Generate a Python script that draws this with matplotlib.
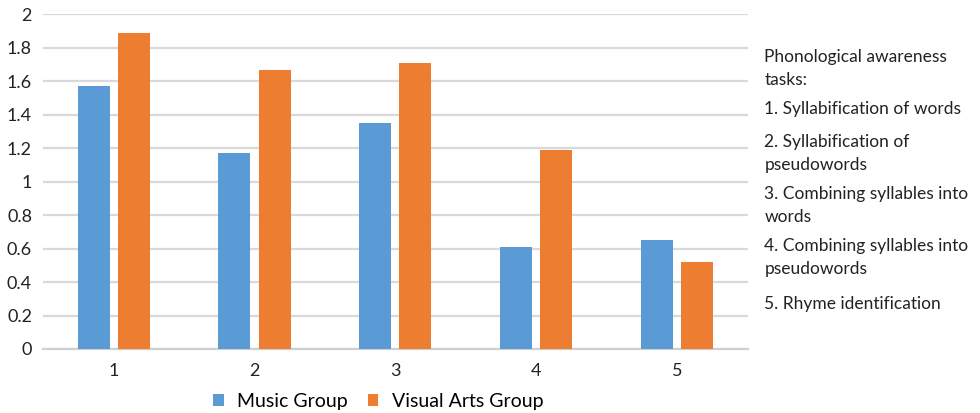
import numpy as np
import matplotlib.pyplot as plt

plt.rcParams['font.family'] = ['Lato', 'DejaVu Sans']

tasks = ['1', '2', '3', '4', '5']
music = [1.57, 1.17, 1.35, 0.61, 0.65]
visual = [1.89, 1.67, 1.71, 1.19, 0.52]
notes = [
    'Phonological awareness\ntasks:',
    '1. Syllabification of words',
    '2. Syllabification of\npseudowords',
    '3. Combining syllables into\nwords',
    '4. Combining syllables into\npseudowords',
    '5. Rhyme identification',
]

blue = '#5B9BD5'
orange = '#ED7D31'

fig = plt.figure(figsize=(9.8, 4.13), dpi=100)
ax = fig.add_axes([0.044, 0.155, 0.719, 0.81])

x = np.arange(len(tasks))
w = 0.227
off = 0.142
ax.bar(x - off, music, w, color=blue, label='Music Group', zorder=3)
ax.bar(x + off, visual, w, color=orange, label='Visual Arts Group', zorder=3)

ax.set_xlim(-0.5, len(tasks) - 0.5)
ax.set_ylim(0, 2)
ax.set_yticks(np.arange(0, 2.01, 0.2))
ax.set_yticklabels(['0', '0.2', '0.4', '0.6', '0.8', '1', '1.2', '1.4', '1.6', '1.8', '2'])
ax.set_xticks(x)
ax.set_xticklabels(tasks)
ax.tick_params(length=0, labelsize=13, colors='#222222')
ax.tick_params(axis='x', pad=10)
ax.tick_params(axis='y', pad=8)
ax.grid(axis='y', color='#d9d9d9', linewidth=1.6, zorder=0)
for s in ['top', 'right', 'left']:
    ax.spines[s].set_visible(False)
ax.spines['bottom'].set_color('#d0d0d0')
ax.spines['bottom'].set_linewidth(1.6)

fig.legend(loc='center', bbox_to_anchor=(0.386, 0.028), ncol=2, frameon=False,
           fontsize=14, handlelength=0.55, handleheight=0.55, handletextpad=0.7,
           columnspacing=1.0)

# task descriptions on the right
ys = [58, 110, 143, 195, 247, 305]
for t, y in zip(notes, ys):
    fig.text(0.78, 1 - (y - 9) / 413, t, ha='left', va='top', fontsize=12.5,
             color='#222222', linespacing=1.55)

fig.savefig('out.png', dpi=100)
